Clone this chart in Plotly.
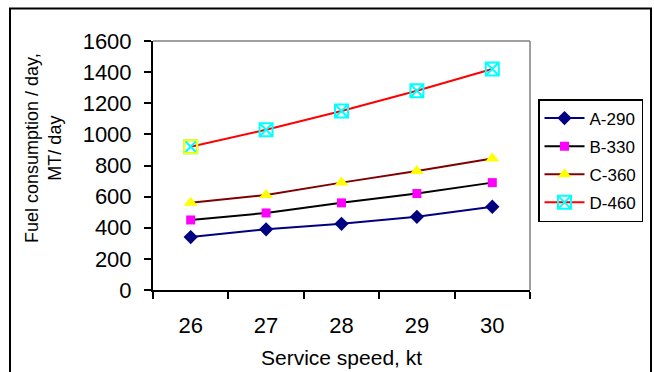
import plotly.graph_objects as go

speeds = ["26", "27", "28", "29", "30"]
series_names = ["A-290", "B-330", "C-360", "D-460"]
a_290 = [340, 390, 425, 470, 535]
b_330 = [450, 495, 560, 620, 690]
c_360 = [560, 610, 690, 765, 845]
d_460 = [920, 1030, 1150, 1280, 1420]
y_ticks = [0, 200, 400, 600, 800, 1000, 1200, 1400, 1600]

W, H = 654, 372
L, R, T, B = 153, 124, 41, 82
pw, ph = W - L - R, H - T - B

def px_x(x):
    return (x - L) / pw

def px_y(y):
    return (H - B - y) / ph

FONT = "Liberation Sans, Arial, sans-serif"

fig = go.Figure()
fig.add_trace(go.Scatter(x=speeds, y=a_290, name=series_names[0], mode="lines+markers",
                         legendgroup="a",
                         line=dict(color="#000080", width=2),
                         marker=dict(symbol="diamond", size=11, color="#000080")))
fig.add_trace(go.Scatter(x=speeds, y=b_330, name=series_names[1], mode="lines+markers",
                         legendgroup="b",
                         line=dict(color="#000000", width=2),
                         marker=dict(symbol="square", size=9, color="#FF00FF")))
fig.add_trace(go.Scatter(x=speeds, y=c_360, name=series_names[2], mode="lines+markers",
                         legendgroup="c",
                         line=dict(color="#800000", width=2),
                         marker=dict(symbol="triangle-up", size=12, color="#FFFF00")))
fig.add_trace(go.Scatter(x=speeds, y=d_460, name=series_names[3], mode="lines+markers",
                         legendgroup="d",
                         line=dict(color="#FF0000", width=2),
                         marker=dict(symbol="square-x-open", size=13, color="#00FFFF",
                                     line=dict(width=2))))
fig.add_trace(go.Scatter(x=speeds[:1], y=d_460[:1], mode="markers", showlegend=False,
                         legendgroup="d",
                         marker=dict(symbol="square-open", size=13, color="#FFFF00",
                                     line=dict(width=2))))

fig.update_layout(
    width=W, height=H,
    margin=dict(l=L, r=R, t=T, b=B, autoexpand=False),
    paper_bgcolor="white", plot_bgcolor="white",
    font=dict(family=FONT, color="black"),
    showlegend=True,
    legend=dict(x=px_x(538), y=px_y(99), xanchor="left", yanchor="top",
                bordercolor="black", borderwidth=1.5, bgcolor="white",
                font=dict(size=17, family=FONT), tracegroupgap=3,
                itemwidth=40),
    xaxis=dict(type="category", range=[-0.5, 4.5], tickson="boundaries",
               showline=True, linecolor="black", linewidth=2,
               ticks="outside", ticklen=7, tickwidth=2, tickcolor="black",
               showgrid=False, zeroline=False,
               tickfont=dict(size=22, family=FONT), ticklabelstandoff=15),
    yaxis=dict(range=[0, 1600], tickvals=y_ticks, ticktext=[str(v) for v in y_ticks],
               showline=True, linecolor="black", linewidth=2,
               ticks="outside", ticklen=7, tickwidth=2, tickcolor="black",
               showgrid=False, zeroline=False,
               tickfont=dict(size=22, family=FONT), ticklabelstandoff=8),
    shapes=[
        dict(type="line", xref="paper", yref="paper", x0=0, x1=1, y0=1, y1=1,
             line=dict(color="#808080", width=1.5)),
        dict(type="line", xref="paper", yref="paper", x0=1, x1=1, y0=0, y1=1,
             line=dict(color="#808080", width=1.5)),
        dict(type="rect", xref="paper", yref="paper",
             x0=px_x(10), x1=px_x(651), y0=px_y(390), y1=px_y(8.5),
             line=dict(color="black", width=2), fillcolor="rgba(0,0,0,0)"),
    ],
    annotations=[
        dict(text="Service speed, kt", xref="paper", yref="paper",
             x=0.5, y=px_y(357), xanchor="center", yanchor="middle",
             showarrow=False, font=dict(size=21, family=FONT)),
        dict(text="Fuel consumption / day,<br>MT/ day", xref="paper", yref="paper",
             x=px_x(43), y=px_y(148), xanchor="center", yanchor="middle",
             textangle=-90, showarrow=False, font=dict(size=18, family=FONT)),
    ],
)

fig.write_html("out.html")
